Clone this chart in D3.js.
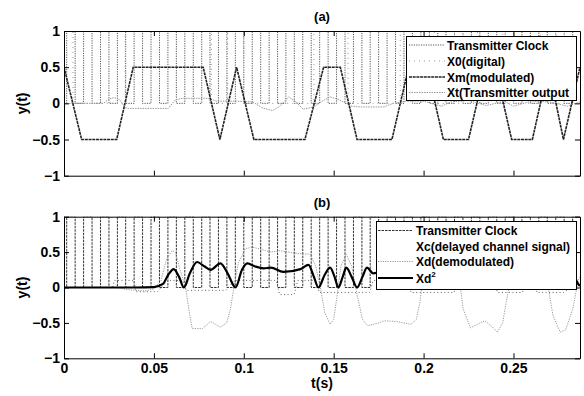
<!DOCTYPE html>
<html>
<head>
<meta charset="utf-8">
<script src="https://cdn.jsdelivr.net/npm/d3@7"></script>
<style>
  body { margin: 0; background: #fff; }
  text { font-family: "Liberation Sans", Arial, sans-serif; font-weight: bold; }
</style>
</head>
<body>
<script>
// clock edge times (s), level toggles at each edge
const clockEdges = [0, 0.0015, 0.0062, 0.0109, 0.0156, 0.0203, 0.025, 0.0297, 0.0343, 0.039, 0.0437,
  0.0484, 0.0531, 0.0578, 0.0625, 0.0672, 0.0719, 0.0766, 0.0812, 0.0859, 0.0906, 0.0953, 0.1,
  0.1047, 0.1094, 0.1141, 0.1188, 0.1234, 0.1281, 0.1328, 0.1375, 0.1422, 0.1469, 0.1516, 0.1563,
  0.161, 0.1657, 0.1703, 0.175, 0.1797, 0.1844, 0.1891, 0.1938, 0.1985, 0.2032, 0.2079, 0.2125,
  0.2172, 0.2219, 0.2266, 0.2313, 0.236, 0.2407, 0.2454, 0.2501, 0.2547, 0.2594, 0.2641, 0.2688,
  0.2735, 0.2782, 0.2829];

// digital bits
const x0Edges = [0, 0.005, 0.034, 0.082, 0.091, 0.1, 0.139, 0.158, 0.187, 0.206, 0.23, 0.244, 0.265, 0.274, 0.283];
const x0Levels = [1, 0, 1, 0, 1, 0, 1, 0, 1, 0, 1, 0, 1, 0, 1];

// modulated (trapezoid)
const xmT = [0, 0.0098, 0.0293, 0.0385, 0.0774, 0.0867, 0.096, 0.1056, 0.134, 0.1444, 0.1537, 0.163,
  0.1824, 0.1917, 0.2019, 0.211, 0.225, 0.2343, 0.2398, 0.249, 0.2605, 0.2695, 0.2778, 0.287];
const xmV = [0.5, -0.5, -0.5, 0.5, 0.5, -0.5, 0.5, -0.5, -0.5, 0.5, 0.5, -0.5,
  -0.5, 0.5, 0.5, -0.5, -0.5, 0.5, 0.5, -0.5, -0.5, 0.5, -0.5, 0.5];

// transmitter output
const xtT = [0, 0.022, 0.025, 0.028, 0.031, 0.034, 0.036, 0.058, 0.062, 0.066, 0.08, 0.085, 0.095, 0.105,
  0.11, 0.116, 0.12, 0.125, 0.129, 0.133, 0.139, 0.143, 0.148, 0.153, 0.16, 0.165, 0.178, 0.183, 0.19,
  0.2, 0.21, 0.215, 0.225, 0.235, 0.245, 0.25, 0.26, 0.27, 0.28, 0.287];
const xtV = [0, 0, 0.06, 0.08, 0.05, -0.06, -0.07, -0.07, 0.05, 0.07, 0.07, 0.03, 0.03, 0.02,
  -0.06, -0.1, -0.04, 0.09, 0.02, -0.08, -0.05, 0.02, 0.09, 0.05, -0.04, -0.05, -0.05, 0.0, 0.03,
  0.03, -0.04, 0.02, 0.04, -0.03, 0.03, -0.04, 0.03, 0.02, -0.04, 0.02];

// delayed channel signal
const xcT = [0, 0.027, 0.028, 0.039, 0.04, 0.052, 0.054, 0.058, 0.066, 0.068, 0.09, 0.095, 0.118, 0.12,
  0.128, 0.13, 0.14, 0.142, 0.17, 0.172, 0.192, 0.193, 0.217, 0.219, 0.24, 0.241, 0.255, 0.257, 0.262,
  0.263, 0.278, 0.287];
const xcV = [0, 0, 0.1, 0.1, -0.06, -0.06, 0, 0.1, 0.1, -0.04, -0.04, 0.1, 0.1, -0.1,
  -0.1, 0.1, 0.1, -0.07, -0.07, 0.1, 0.1, -0.07, -0.07, 0.1, 0.1, -0.07, -0.07, 0.1, 0.1,
  -0.07, -0.07, 0.1];

// demodulated
const xdT = [0, 0.03, 0.035, 0.045, 0.05, 0.054, 0.057, 0.06, 0.062, 0.064, 0.0676, 0.07, 0.0713, 0.077,
  0.0815, 0.087, 0.0905, 0.0926, 0.0945, 0.097, 0.101, 0.105, 0.115, 0.12, 0.13, 0.137, 0.14, 0.1426,
  0.145, 0.148, 0.15, 0.152, 0.154, 0.157, 0.16, 0.163, 0.166, 0.169, 0.175, 0.178, 0.185, 0.193,
  0.196, 0.198, 0.2, 0.203, 0.21, 0.217, 0.22, 0.222, 0.226, 0.23, 0.234, 0.238, 0.241, 0.244, 0.246,
  0.249, 0.252, 0.26, 0.266, 0.269, 0.272, 0.276, 0.279, 0.283, 0.286, 0.287];
const xdV = [0, 0, -0.03, -0.05, -0.02, 0.1, 0.4, 0.52, 0.5, 0.3, 0, -0.4, -0.58, -0.58,
  -0.48, -0.56, -0.5, -0.3, 0, 0.35, 0.55, 0.57, 0.5, 0.52, 0.48, 0.47, 0.3, 0,
  -0.35, -0.52, -0.45, -0.1, 0.3, 0.47, 0.3, -0.1, -0.45, -0.54, -0.5, -0.47, -0.48, -0.52,
  -0.45, -0.2, 0.2, 0.45, 0.5, 0.45, 0.1, -0.3, -0.57, -0.52, -0.47, -0.55, -0.63, -0.5, -0.2,
  0.2, 0.45, 0.5, 0.4, 0.05, -0.4, -0.63, -0.6, -0.3, 0.1, 0.15];

// demodulated squared
const xd2T = [0, 0.04, 0.05, 0.055, 0.058, 0.061, 0.064, 0.0667, 0.07, 0.074, 0.078, 0.0815, 0.087, 0.091,
  0.0954, 0.099, 0.102, 0.106, 0.111, 0.115, 0.122, 0.1315, 0.136, 0.139, 0.1415, 0.145, 0.148, 0.1505,
  0.1526, 0.155, 0.157, 0.16, 0.163, 0.166, 0.1685, 0.172, 0.18, 0.19, 0.198, 0.2, 0.204, 0.21, 0.217,
  0.222, 0.226, 0.234, 0.241, 0.246, 0.25, 0.26, 0.269, 0.274, 0.28, 0.286, 0.287];
const xd2V = [0, 0, 0.005, 0.05, 0.18, 0.26, 0.15, 0, 0.2, 0.36, 0.3, 0.25, 0.34, 0.2,
  0, 0.25, 0.34, 0.3, 0.27, 0.28, 0.22, 0.26, 0.32, 0.15, 0, 0.18, 0.28, 0.15,
  0, 0.15, 0.28, 0.15, 0, 0.15, 0.28, 0.2, 0.25, 0.2, 0.05, 0, 0.25, 0.3, 0.25,
  0, 0.3, 0.25, 0.35, 0.05, 0.25, 0.3, 0, 0.3, 0.35, 0.05, 0.02];

const xTicks = [0, 0.05, 0.1, 0.15, 0.2, 0.25];
const yTicks = [-1, -0.5, 0, 0.5, 1];
const legendA = ["Transmitter Clock", "X0(digital)", "Xm(modulated)", "Xt(Transmitter output"];
const legendB = ["Transmitter Clock", "Xc(delayed channel signal)", "Xd(demodulated)", "Xd"];

const W = 584, H = 396;
const left = 64, right = 580;
const svg = d3.select("body").append("svg").attr("width", W).attr("height", H);

const x = d3.scaleLinear().domain([0, 0.287]).range([left, right]);
const fmt = d => String(d).replace("-", "\u2212");

const zip = (ts, vs) => ts.map((t, i) => [t, vs[i]]);
const steps = (edges, levels) => edges.map((t, i) => [t, levels[i]]).concat([[0.287, levels[levels.length - 1]]]);
const clockPts = steps(clockEdges, clockEdges.map((_, i) => i % 2 === 0 ? 0 : 1));
const x0Pts = steps(x0Edges, x0Levels);

const styles = {
  clockA: { stroke: "#555", w: 1, dash: "1.2,1.2" },
  clockB: { stroke: "#333", w: 1, dash: "2.5,1" },
  x0: { stroke: "#999", w: 1, dash: "1,4" },
  xm: { stroke: "#222", w: 1.6, dash: "3,0.7" },
  xt: { stroke: "#999", w: 1, dash: "1.5,1" },
  xc: { stroke: "#666", w: 1, dash: "1,2.5" },
  xd: { stroke: "#999", w: 1, dash: "1.2,1.2" },
  xd2: { stroke: "#000", w: 2.2, dash: null }
};

function panel(id, top, bottom, title, series, legendItems, legendStyles, legendBox) {
  const y = d3.scaleLinear().domain([-1, 1]).range([bottom, top]);
  const g = svg.append("g");
  g.append("clipPath").attr("id", id).append("rect")
    .attr("x", left).attr("y", top).attr("width", right - left).attr("height", bottom - top);

  const plot = g.append("g").attr("clip-path", `url(#${id})`);
  series.forEach(s => {
    const line = d3.line().x(d => x(d[0])).y(d => y(d[1]));
    if (s.step) line.curve(d3.curveStepAfter);
    if (s.smooth) line.curve(d3.curveMonotoneX);
    plot.append("path").datum(s.data)
      .attr("d", line).attr("fill", "none")
      .attr("stroke", s.style.stroke).attr("stroke-width", s.style.w)
      .attr("stroke-dasharray", s.style.dash);
  });

  const axes = [
    g.append("g").attr("transform", `translate(0,${bottom})`)
      .call(d3.axisBottom(x).tickValues(xTicks).tickSizeInner(-5).tickSizeOuter(0).tickPadding(5)
        .tickFormat(id === "clipB" ? fmt : () => "")),
    g.append("g").attr("transform", `translate(0,${top})`)
      .call(d3.axisTop(x).tickValues(xTicks).tickSizeInner(-5).tickSizeOuter(0).tickFormat(() => "")),
    g.append("g").attr("transform", `translate(${left},0)`)
      .call(d3.axisLeft(y).tickValues(yTicks).tickSizeInner(-5).tickSizeOuter(0).tickPadding(4).tickFormat(fmt)),
    g.append("g").attr("transform", `translate(${right},0)`)
      .call(d3.axisRight(y).tickValues(yTicks).tickSizeInner(-5).tickSizeOuter(0).tickFormat(() => ""))
  ];
  axes.forEach(a => {
    a.selectAll("path, line").attr("stroke", "#000");
    a.selectAll("text").attr("font-size", 14).attr("fill", "#000")
      .style("font-family", "'Liberation Sans', Arial, sans-serif").style("font-weight", "bold");
  });

  g.append("text").attr("x", (left + right) / 2).attr("y", top - 10)
    .attr("text-anchor", "middle").attr("font-size", 13).text(title);
  g.append("text").attr("transform", `translate(27,${y(0)}) rotate(-90)`)
    .attr("text-anchor", "middle").attr("font-size", 14).text("y(t)");

  // legend
  const lb = legendBox;
  g.append("rect").attr("x", lb.x0).attr("y", lb.y0).attr("width", lb.x1 - lb.x0).attr("height", lb.y1 - lb.y0)
    .attr("fill", "#fff").attr("stroke", "#000").attr("stroke-width", 1);
  legendItems.forEach((name, i) => {
    const ly = lb.rows[i];
    const st = legendStyles[i];
    if (st) {
      g.append("line").attr("x1", lb.s0).attr("x2", lb.s1).attr("y1", ly).attr("y2", ly)
        .attr("stroke", st.stroke).attr("stroke-width", st.w).attr("stroke-dasharray", st.dash);
    }
    const t = g.append("text").attr("x", lb.tx).attr("y", ly + 4.5).attr("font-size", 12).text(name);
    if (name === "Xd") t.append("tspan").attr("dy", -6).attr("font-size", 8).text("2");
  });
}

panel("clipA", 31, 175.7, "(a)", [
  { data: clockPts, style: styles.clockA, step: true },
  { data: x0Pts, style: styles.x0, step: true },
  { data: zip(xtT, xtV), style: styles.xt },
  { data: zip(xmT, xmV), style: styles.xm }
], legendA, [styles.clockA, styles.x0, styles.xm, styles.xt],
  { x0: 406.5, x1: 576.5, y0: 36.5, y1: 100.5, rows: [45, 61, 77, 92.5], s0: 409, s1: 445, tx: 447 });

panel("clipB", 216.7, 358.3, "(b)", [
  { data: clockPts, style: styles.clockB, step: true },
  { data: zip(xcT, xcV), style: styles.xc },
  { data: zip(xdT, xdV), style: styles.xd },
  { data: zip(xd2T, xd2V), style: styles.xd2, smooth: true }
], legendB, [styles.clockB, null, styles.xd, styles.xd2],
  { x0: 376.5, x1: 576.5, y0: 221.5, y1: 289.5, rows: [230.5, 246.5, 261.5, 278], s0: 378, s1: 413, tx: 416 });

svg.append("text").attr("x", (left + right) / 2).attr("y", 388)
  .attr("text-anchor", "middle").attr("font-size", 14).text("t(s)");
</script>
</body>
</html>
